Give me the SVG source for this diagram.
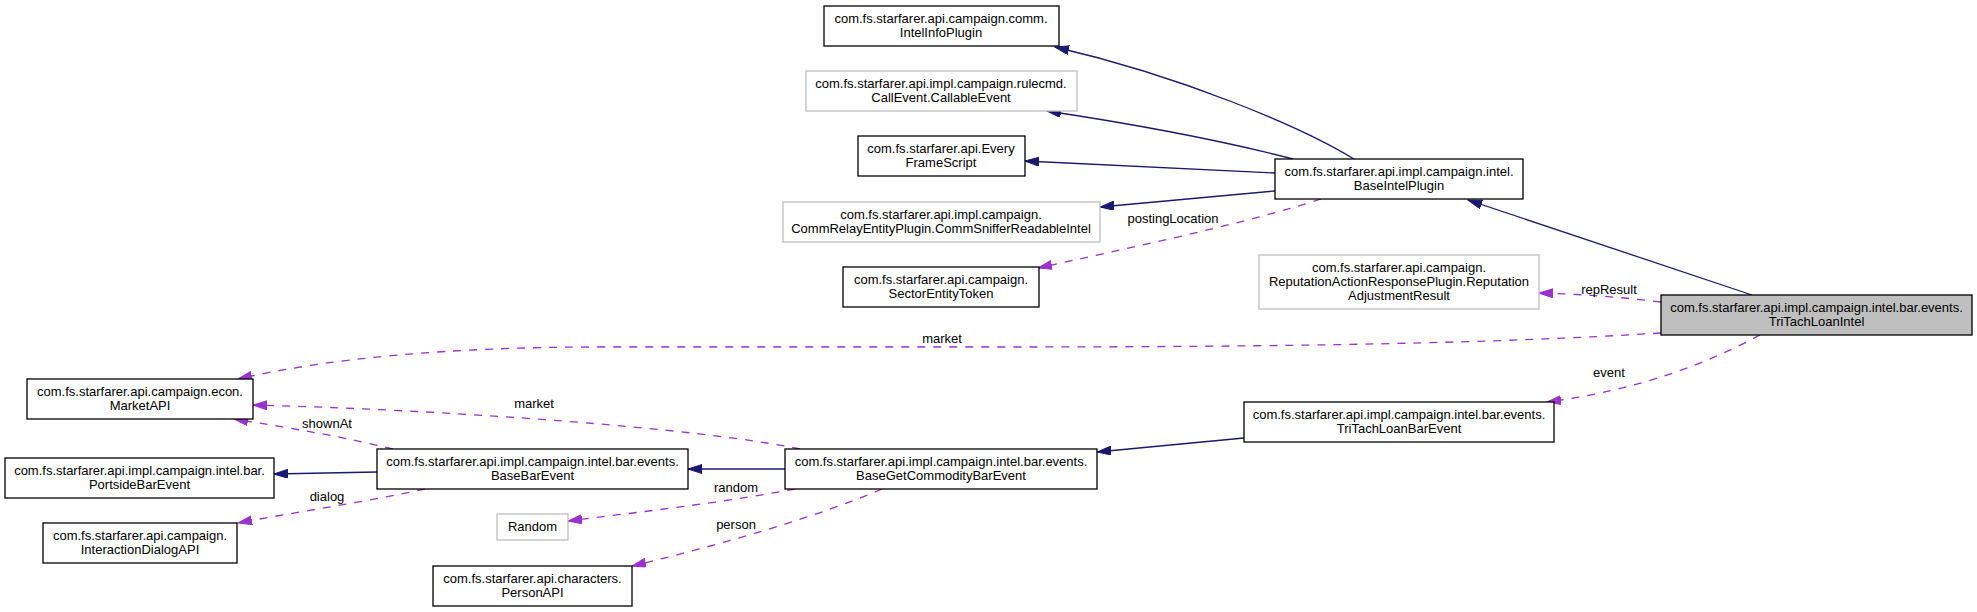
<svg xmlns="http://www.w3.org/2000/svg" width="1977" height="612" viewBox="0 0 1977 612">
<style>
text{font-family:"Liberation Sans",Arial,sans-serif;font-size:13px;fill:#000;text-anchor:middle}
.nb{fill:#fff;stroke:#000;stroke-width:1.3}
.ng{fill:#fff;stroke:#bfbfbf;stroke-width:1.3}
.nc{fill:#bfbfbf;stroke:#000;stroke-width:1.3}
.inh{fill:none;stroke:#191970;stroke-width:1.3;marker-end:url(#ah)}
.use{fill:none;stroke:#9a32cd;stroke-width:1.3;stroke-dasharray:8,8;marker-end:url(#au)}
</style>
<defs>
<marker id="ah" markerUnits="userSpaceOnUse" markerWidth="15" markerHeight="10" refX="14" refY="4.5" orient="auto"><path d="M0,0 L14,4.5 L0,9 z" fill="#191970" stroke="#191970" stroke-width="1" stroke-dasharray="none"/></marker>
<marker id="au" markerUnits="userSpaceOnUse" markerWidth="15" markerHeight="10" refX="14" refY="4.5" orient="auto"><path d="M0,0 L14,4.5 L0,9 z" fill="#9a32cd" stroke="#9a32cd" stroke-width="1" stroke-dasharray="none"/></marker>
</defs>
<rect width="1977" height="612" fill="#fff"/>
<g id="edges">
<path class="inh" d="M1354,159 C1300,126 1180,76 1055,47"/>
<path class="inh" d="M1293,159 C1220,140 1120,122 1047,111"/>
<path class="inh" d="M1275,173 L1025,161"/>
<path class="inh" d="M1275,191 L1100,207"/>
<path class="inh" d="M1752,295 L1468,200"/>
<path class="inh" d="M1244,438 L1097,452"/>
<path class="inh" d="M785,469 L688,469"/>
<path class="inh" d="M377,472 L274,474"/>
<path class="use" d="M1321,199 C1240,225 1120,250 1038,268"/>
<path class="use" d="M1661,302 C1620,297 1580,294 1539,293"/>
<path class="use" d="M1661,333 C1500,343 1300,347 1000,347 L600,347 C450,347 330,358 238,379"/>
<path class="use" d="M800,449 C700,428 450,410 253,405"/>
<path class="use" d="M393,449 C340,436 290,428 234,419"/>
<path class="use" d="M425,489 C360,503 290,513 238,523"/>
<path class="use" d="M795,489 C720,503 640,512 568,521"/>
<path class="use" d="M882,489 C820,516 720,545 632,566"/>
<path class="use" d="M1760,335 C1710,362 1640,390 1547,402"/>
<text x="1173" y="223">postingLocation</text>
<text x="1609" y="294">repResult</text>
<text x="942" y="343">market</text>
<text x="534" y="408">market</text>
<text x="327" y="428">shownAt</text>
<text x="327" y="501">dialog</text>
<text x="736" y="492">random</text>
<text x="736" y="529">person</text>
<text x="1609" y="377">event</text>
</g>
<g id="n_intelinfo"><rect class="nb" x="824" y="6" width="235" height="40"/><text x="941" y="23">com.fs.starfarer.api.campaign.comm.</text><text x="941" y="37">IntelInfoPlugin</text></g>
<g id="n_callable"><rect class="ng" x="806" y="71" width="271" height="40"/><text x="941" y="88">com.fs.starfarer.api.impl.campaign.rulecmd.</text><text x="941" y="102">CallEvent.CallableEvent</text></g>
<g id="n_everyframe"><rect class="nb" x="858" y="136" width="167" height="40"/><text x="941" y="153">com.fs.starfarer.api.Every</text><text x="941" y="167">FrameScript</text></g>
<g id="n_commsniffer"><rect class="ng" x="783" y="202" width="317" height="40"/><text x="941" y="219">com.fs.starfarer.api.impl.campaign.</text><text x="941" y="233">CommRelayEntityPlugin.CommSnifferReadableIntel</text></g>
<g id="n_sector"><rect class="nb" x="843" y="267" width="196" height="40"/><text x="941" y="284">com.fs.starfarer.api.campaign.</text><text x="941" y="298">SectorEntityToken</text></g>
<g id="n_baseintel"><rect class="nb" x="1275" y="159" width="248" height="40"/><text x="1399" y="176">com.fs.starfarer.api.impl.campaign.intel.</text><text x="1399" y="190">BaseIntelPlugin</text></g>
<g id="n_rep"><rect class="ng" x="1259" y="255" width="280" height="54"/><text x="1399" y="272">com.fs.starfarer.api.campaign.</text><text x="1399" y="286">ReputationActionResponsePlugin.Reputation</text><text x="1399" y="300">AdjustmentResult</text></g>
<g id="n_tri"><rect class="nc" x="1661" y="295" width="311" height="40"/><text x="1816.5" y="312">com.fs.starfarer.api.impl.campaign.intel.bar.events.</text><text x="1816.5" y="326">TriTachLoanIntel</text></g>
<g id="n_tribar"><rect class="nb" x="1244" y="402" width="310" height="40"/><text x="1399" y="419">com.fs.starfarer.api.impl.campaign.intel.bar.events.</text><text x="1399" y="433">TriTachLoanBarEvent</text></g>
<g id="n_basegc"><rect class="nb" x="785" y="449" width="312" height="40"/><text x="941" y="466">com.fs.starfarer.api.impl.campaign.intel.bar.events.</text><text x="941" y="480">BaseGetCommodityBarEvent</text></g>
<g id="n_basebar"><rect class="nb" x="377" y="449" width="311" height="40"/><text x="532.5" y="466">com.fs.starfarer.api.impl.campaign.intel.bar.events.</text><text x="532.5" y="480">BaseBarEvent</text></g>
<g id="n_random"><rect class="ng" x="497" y="514" width="71" height="26"/><text x="532.5" y="531">Random</text></g>
<g id="n_person"><rect class="nb" x="433" y="566" width="199" height="40"/><text x="532.5" y="583">com.fs.starfarer.api.characters.</text><text x="532.5" y="597">PersonAPI</text></g>
<g id="n_market"><rect class="nb" x="27" y="379" width="226" height="40"/><text x="140" y="396">com.fs.starfarer.api.campaign.econ.</text><text x="140" y="410">MarketAPI</text></g>
<g id="n_portside"><rect class="nb" x="5" y="458" width="269" height="40"/><text x="139.5" y="475">com.fs.starfarer.api.impl.campaign.intel.bar.</text><text x="139.5" y="489">PortsideBarEvent</text></g>
<g id="n_dialog"><rect class="nb" x="43" y="523" width="194" height="40"/><text x="140" y="540">com.fs.starfarer.api.campaign.</text><text x="140" y="554">InteractionDialogAPI</text></g>
</svg>
